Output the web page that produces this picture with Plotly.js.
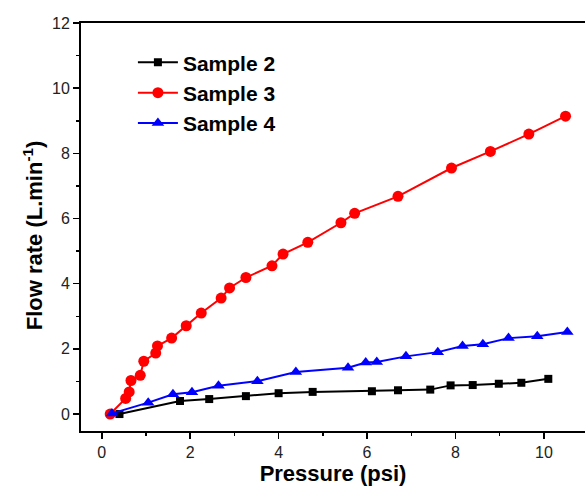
<!DOCTYPE html>
<html>
<head>
<meta charset="utf-8">
<script src="https://cdn.plot.ly/plotly-3.0.1.min.js"></script>
<style>html,body{margin:0;padding:0;background:#fff;overflow:hidden}</style>
</head>
<body>
<div id="chart" style="width:585px;height:487px"></div>
<script>
const sample2X = [0.40, 1.77, 2.43, 3.26, 4.00, 4.77, 6.11, 6.70, 7.43, 7.89, 8.39, 8.98, 9.49, 10.10];
const sample2Y = [0.00, 0.40, 0.46, 0.55, 0.64, 0.68, 0.70, 0.73, 0.75, 0.88, 0.89, 0.93, 0.96, 1.08];

const sample3X = [0.19, 0.54, 0.62, 0.66, 0.87, 0.95, 1.22, 1.26, 1.58, 1.91, 2.25, 2.70, 2.89, 3.26, 3.85, 4.10, 4.66, 5.41, 5.72, 6.70, 7.91, 8.79, 9.66, 10.49];
const sample3Y = [0.00, 0.48, 0.68, 1.03, 1.19, 1.62, 1.87, 2.09, 2.33, 2.71, 3.10, 3.56, 3.87, 4.19, 4.55, 4.91, 5.27, 5.87, 6.16, 6.68, 7.55, 8.06, 8.59, 9.14];

const sample4X = [0.23, 1.05, 1.61, 2.04, 2.64, 3.52, 4.39, 5.57, 5.97, 6.22, 6.88, 7.60, 8.16, 8.62, 9.20, 9.85, 10.53];
const sample4Y = [0.02, 0.35, 0.61, 0.67, 0.87, 1.01, 1.29, 1.42, 1.58, 1.60, 1.77, 1.90, 2.09, 2.14, 2.33, 2.39, 2.52];

const seriesNames = ["Sample 2", "Sample 3", "Sample 4"];

const traces = [
  {x: sample2X, y: sample2Y, name: "<b>" + seriesNames[0] + "</b>", mode: "lines+markers",
   line: {color: "#000000", width: 2}, marker: {symbol: "square", size: 8, color: "#000000"}},
  {x: sample3X, y: sample3Y, name: "<b>" + seriesNames[1] + "</b>", mode: "lines+markers",
   line: {color: "#ff0000", width: 2}, marker: {symbol: "circle", size: 11, color: "#ff0000"}},
  {x: sample4X, y: sample4Y, name: "<b>" + seriesNames[2] + "</b>", mode: "lines+markers",
   line: {color: "#0000ff", width: 2}, marker: {symbol: "triangle-up", size: 11, color: "#0000ff"}}
];

const fam = "Arial, Liberation Sans, sans-serif";
const axisFont = {family: fam, size: 16, color: "#222"};

const layout = {
  width: 585, height: 487,
  margin: {l: 81, r: 0, t: 23, b: 56},
  paper_bgcolor: "#fff", plot_bgcolor: "#fff",
  showlegend: true,
  legend: {
    x: 0.103, y: 0.953, xanchor: "left", yanchor: "top",
    bgcolor: "rgba(0,0,0,0)",
    font: {family: fam, size: 21, color: "#000"},
    tracegroupgap: 0, itemwidth: 40
  },
  xaxis: {
    range: [-0.47, 10.93],
    tickvals: [0, 2, 4, 6, 8, 10],
    ticks: "outside", ticklen: 6, tickwidth: 1.5, tickcolor: "#000",
    minor: {dtick: 1, tick0: 0, ticks: "outside", ticklen: 3, tickwidth: 1.5, tickcolor: "#000", showgrid: false},
    showline: true, linewidth: 2, linecolor: "#000", mirror: true,
    showgrid: false, zeroline: false,
    tickfont: axisFont,
    title: {text: "<b>Pressure (psi)</b>", font: {family: fam, size: 22, color: "#000"}, standoff: 2}
  },
  yaxis: {
    range: [-0.52, 12],
    tickvals: [0, 2, 4, 6, 8, 10, 12],
    ticks: "outside", ticklen: 6, tickwidth: 1.5, tickcolor: "#000",
    minor: {dtick: 1, tick0: 0, ticks: "outside", ticklen: 3, tickwidth: 1.5, tickcolor: "#000", showgrid: false},
    showline: true, linewidth: 2, linecolor: "#000", mirror: false,
    showgrid: false, zeroline: false,
    tickfont: axisFont
  },
  annotations: [{
    text: "<b>Flow rate (L.min<sup>-1</sup>)</b>",
    xref: "paper", yref: "paper", x: -0.095, y: 0.48,
    xanchor: "center", yanchor: "middle", textangle: -90, showarrow: false,
    font: {family: fam, size: 22, color: "#000"}
  }]
};

Plotly.newPlot("chart", traces, layout, {displayModeBar: false, staticPlot: true});
</script>
</body>
</html>
